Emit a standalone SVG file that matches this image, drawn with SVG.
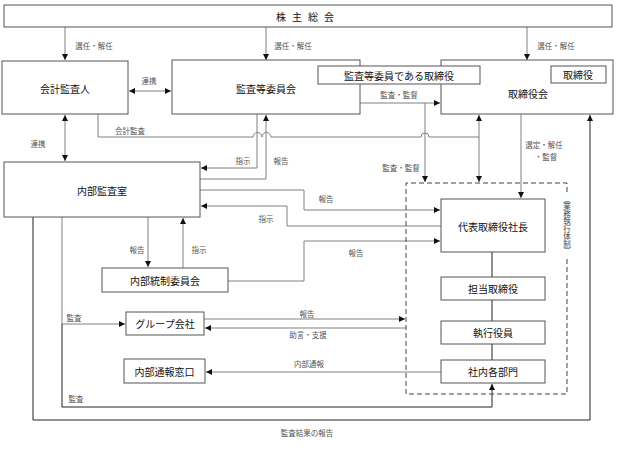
<svg xmlns="http://www.w3.org/2000/svg" width="629" height="450" viewBox="0 0 629 450">
<style>
.box{fill:#fff;stroke:#555;stroke-width:1}
.t{font-family:"Noto Sans CJK JP","Liberation Sans",sans-serif;font-size:10px;fill:#111;text-anchor:middle;dominant-baseline:central}
.l{font-family:"Noto Sans CJK JP","Liberation Sans",sans-serif;font-size:7.5px;fill:#555;text-anchor:middle;dominant-baseline:central}
.v{font-family:"Noto Sans CJK JP",sans-serif;font-size:7.5px;fill:#444;text-anchor:middle;writing-mode:vertical-rl;text-orientation:upright}
.c{fill:none;stroke:#808080;stroke-width:1}
.k{fill:none;stroke:#222;stroke-width:1}
.a{marker-end:url(#ah)}
.b{marker-start:url(#as);marker-end:url(#ah)}
</style>
<defs>
<marker id="ah" viewBox="0 0 6 6" refX="6" refY="3" markerWidth="6" markerHeight="6" markerUnits="userSpaceOnUse" orient="auto"><path d="M0,0 L6,3 L0,6 z" fill="#111"/></marker>
<marker id="as" viewBox="0 0 6 6" refX="0" refY="3" markerWidth="6" markerHeight="6" markerUnits="userSpaceOnUse" orient="auto"><path d="M6,0 L0,3 L6,6 z" fill="#111"/></marker>
</defs>
<rect width="629" height="450" fill="#fff"/>
<g id="connectors">
<path class="c a" d="M65,27 V60"/>
<path class="c a" d="M266,27 V60"/>
<path class="c a" d="M527,27 V60"/>
<path class="c b" d="M129,91 H171"/>
<path class="c a" d="M360,103 H440"/>
<path class="c a" d="M425,103 V182"/>
<path class="c b" d="M479,115 V182"/>
<path class="c" d="M98,114 V137 H253 a4.5,4.5 0 0 1 9,0 a4.5,4.5 0 0 1 9,0 H421 a4,4 0 0 1 8,0 H479"/>
<path class="c b" d="M65,115 V161"/>
<path class="c a" d="M257,114 V168 H201"/>
<path class="c a" d="M200,179 H266 V115"/>
<path class="c a" d="M521,114 V198"/>
<path class="c a" d="M200,190 H304 V210 H440"/>
<path class="c a" d="M441,226 H287 V206 H201"/>
<path class="c a" d="M148,217 V267"/>
<path class="c a" d="M183,268 V218"/>
<path class="c a" d="M228,281 H304 V241 H440"/>
<path class="c a" d="M62,217 V324 H125"/>
<path class="c a" d="M204,319 H405"/>
<path class="c a" d="M406,328 H205"/>
<path class="c a" d="M441,372 H206"/>
<path class="k a" d="M62,324 V407 H492 V384"/>
<path class="k a" d="M33,217 V420 H590 V115"/>
<path class="k" d="M492,252 V277 M492,300 V321 M492,344 V360"/>
<path fill="none" stroke="#444" stroke-width="1" stroke-dasharray="5,3" d="M567,192 V183 H406 V394 H567 V256"/>
</g>
<g id="n-shareholders"><rect class="box" x="4" y="5" width="608" height="22"/><text class="t" x="308" y="16" letter-spacing="6">株主総会</text></g>
<g id="n-auditor"><rect class="box" x="2" y="61" width="126" height="53"/><text class="t" x="65" y="88">会計監査人</text></g>
<g id="n-audit-committee"><rect class="box" x="172" y="60" width="188" height="54"/><text class="t" x="266" y="88">監査等委員会</text></g>
<g id="n-board"><rect class="box" x="441" y="60" width="172" height="54"/><text class="t" x="528" y="93">取締役会</text></g>
<g id="n-audit-director"><rect class="box" x="318" y="66" width="162" height="18"/><text class="t" x="399" y="75">監査等委員である取締役</text></g>
<g id="n-director"><rect class="box" x="551" y="66" width="55" height="17"/><text class="t" x="578" y="74.5">取締役</text></g>
<g id="n-internal-audit"><rect class="box" x="4" y="162" width="196" height="55"/><text class="t" x="102" y="190">内部監査室</text></g>
<g id="n-president"><rect class="box" x="441" y="199" width="104" height="53"/><text class="t" x="493" y="226">代表取締役社長</text></g>
<g id="n-ic-committee"><rect class="box" x="102" y="268" width="126" height="24"/><text class="t" x="165" y="280">内部統制委員会</text></g>
<g id="n-group"><rect class="box" x="126" y="312" width="78" height="23"/><text class="t" x="165" y="323.5">グループ会社</text></g>
<g id="n-whistle"><rect class="box" x="124" y="359" width="81" height="24"/><text class="t" x="164.5" y="371">内部通報窓口</text></g>
<g id="n-officer-director"><rect class="box" x="441" y="277" width="104" height="23"/><text class="t" x="493" y="288.5">担当取締役</text></g>
<g id="n-exec-officer"><rect class="box" x="441" y="321" width="104" height="23"/><text class="t" x="493" y="332.5">執行役員</text></g>
<g id="n-departments"><rect class="box" x="441" y="360" width="104" height="23"/><text class="t" x="493" y="371.5">社内各部門</text></g>
<g id="n-execution"><text class="v" x="567" y="225">（業務執行体制）</text></g>
<g id="labels">
<text class="l" x="94" y="45">選任・解任</text>
<text class="l" x="293" y="45">選任・解任</text>
<text class="l" x="556" y="45">選任・解任</text>
<text class="l" x="149" y="80">連携</text>
<text class="l" x="399" y="94">監査・監督</text>
<text class="l" x="130" y="130">会計監査</text>
<text class="l" x="38" y="143">連携</text>
<text class="l" x="243" y="160">指示</text>
<text class="l" x="281" y="160">報告</text>
<text class="l" x="401" y="167">監査・監督</text>
<text class="l" x="544" y="144">選定・解任</text>
<text class="l" x="546" y="156">・監督</text>
<text class="l" x="326" y="198">報告</text>
<text class="l" x="266" y="218">指示</text>
<text class="l" x="137" y="249">報告</text>
<text class="l" x="199" y="249">指示</text>
<text class="l" x="356" y="252">報告</text>
<text class="l" x="74" y="317">監査</text>
<text class="l" x="307" y="313">報告</text>
<text class="l" x="308" y="334">助言・支援</text>
<text class="l" x="309" y="363">内部通報</text>
<text class="l" x="76" y="398">監査</text>
<text class="l" x="307" y="432">監査結果の報告</text>
</g>
</svg>
